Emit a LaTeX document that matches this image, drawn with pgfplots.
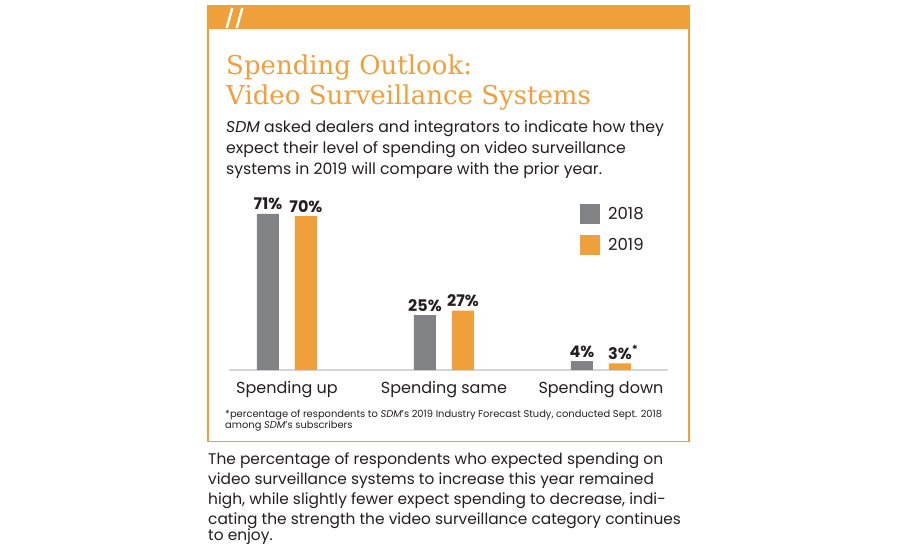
\documentclass[border=0pt]{standalone}
\usepackage{pgfplots}
\pgfplotsset{compat=1.18}
\usepackage{fontspec}
\setmainfont{Poppins}
\newfontfamily\slab{DejaVu Serif}
\definecolor{sdmorange}{HTML}{F0A03A}
\definecolor{bargray}{HTML}{808285}
\definecolor{ink}{HTML}{231F20}
\definecolor{rulegray}{HTML}{D6D6D6}
\newcommand\fs[2]{\fontsize{#1pt}{#2pt}\selectfont}

\begin{document}
\begin{tikzpicture}[x=1pt,y=1pt]
% page, 900 x 550
\fill[white] (0,0) rectangle (900,550);

% frame and header bar
\draw[sdmorange, line width=1.6pt] (207.8,108.5) rectangle (689.2,544.5);
\fill[sdmorange] (207,521) rectangle (690,545);
\draw[white, line width=2.4pt] (226.7,522) -- (232.3,542)
                                (236.7,522) -- (242.3,542);

% title
\node[anchor=base west, inner sep=0pt, text=sdmorange, font=\slab\fs{26}{30}] at (226,475) {Spending Outlook:};
\node[anchor=base west, inner sep=0pt, text=sdmorange, font=\slab\fs{26}{30}] at (226,445) {Video Surveillance Systems};

% intro
\begin{scope}[every node/.style={anchor=base west, inner sep=0pt, text=ink, font=\fs{15.7}{21}}]
\node at (226,417) {\textit{SDM} asked dealers and integrators to indicate how they};
\node at (226,396) {expect their level of spending on video surveillance};
\node at (226,375) {systems in 2019 will compare with the prior year.};
\end{scope}

\begin{axis}[
  at={(229pt,180pt)}, anchor=south west,
  scale only axis,
  width=439pt, height=176pt,
  xmin=-0.369, xmax=2.427,
  ymin=0, ymax=80,
  ybar=16pt, bar width=22pt,
  axis x line*=bottom,
  hide y axis,
  axis line style={draw=rulegray, line width=1.2pt, -},
  xtick={0,1,2},
  xticklabels={Spending up, Spending same, Spending down},
  major tick length=0pt,
  xticklabel style={font=\fs{16}{18}, text=ink, anchor=base, yshift=-23pt},
  point meta=explicit symbolic,
  nodes near coords,
  every node near coord/.append style={font=\bfseries\fs{16}{18}, text=ink, anchor=base, yshift=4pt},
  legend style={at={(axis cs:1.866,75.45)}, anchor=north west, draw=none, fill=none,
    inner sep=0pt, row sep=11pt, font=\fs{16.5}{18}, text=ink,
    /tikz/every odd column/.append style={column sep=6pt}},
  legend cell align=left,
]
\addplot[fill=bargray, draw=none,
  legend image code/.code={\fill[bargray] (0pt,-10pt) rectangle (20pt,10pt);}]
  coordinates {(0,71)[71\%] (1,25)[25\%] (2,4)[4\%]};
\addplot[fill=sdmorange, draw=none,
  legend image code/.code={\fill[sdmorange] (0pt,-10pt) rectangle (20pt,10pt);}]
  coordinates {(0,70)[70\%] (1,27)[27\%] (2,3)[3\%\rlap{\textsuperscript{*}}]};
\legend{2018, 2019}
\end{axis}

% footnote
\begin{scope}[every node/.style={anchor=base west, inner sep=0pt, text=ink, font=\fs{9.9}{11}}]
\node at (225,133) {*percentage of respondents to \textit{SDM}'s 2019 Industry Forecast Study, conducted Sept. 2018};
\node at (225,122) {among \textit{SDM}'s subscribers};
\end{scope}

% caption below the box
\begin{scope}[every node/.style={anchor=base west, inner sep=0pt, text=ink, font=\fs{15.4}{20}}]
\node at (208,86) {The percentage of respondents who expected spending on};
\node at (208,66) {video surveillance systems to increase this year remained};
\node at (208,46) {high, while slightly fewer expect spending to decrease, indi-};
\node at (208,26) {cating the strength the video surveillance category continues};
\node at (208,10) {to enjoy.};
\end{scope}
\end{tikzpicture}
\end{document}
